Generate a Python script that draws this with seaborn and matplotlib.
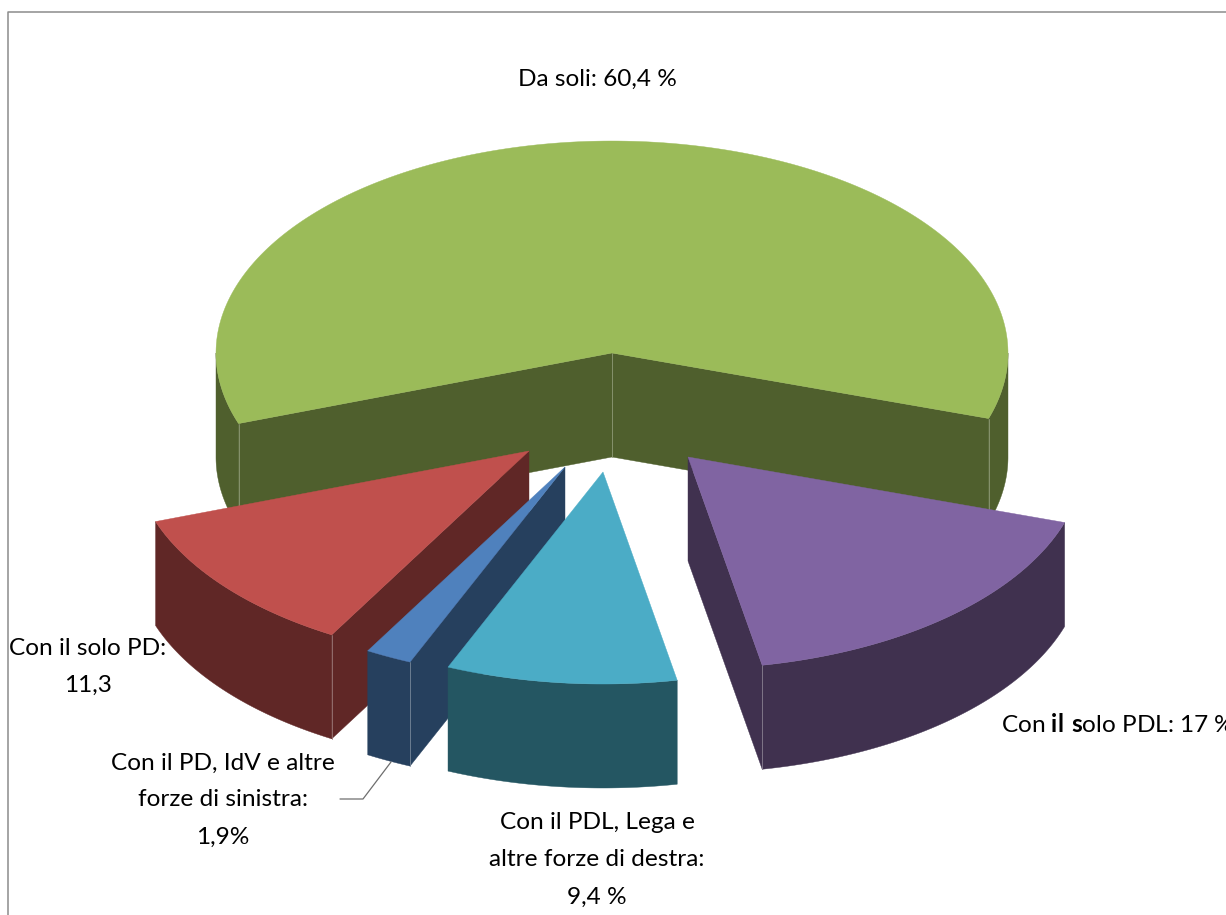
import numpy as np
import seaborn as sns
from matplotlib import pyplot as plt
from matplotlib.patches import Polygon

# shares in %, clockwise starting from the purple slice
slices = ['Con il solo PDL', 'Con il PDL, Lega', 'Con il PD, IdV', 'Con il solo PD', 'Da soli']
shares = [17.0, 9.4, 1.9, 11.3, 60.4]
top_colors = ['#8064A2', '#4BACC6', '#4F81BD', '#C0504D', '#9BBB59']
side_colors = ['#40314F', '#245662', '#26405E', '#602726', '#4F5F2D']

label_pdl = r'Con $\mathbf{il\ s}$olo PDL: 17 %'
label_lega = 'Con il PDL, Lega e\naltre forze di destra:\n9,4 %'
label_idv = 'Con il PD, IdV e altre\nforze di sinistra:\n1,9%'
label_pd = 'Con il solo PD:\n11,3'
label_soli = 'Da soli: 60,4 %'

# geometry of the fake 3d pie, in pixels
CX, CY = 612, 353
RX, RY = 396, 212
DEPTH = 104
START = 18.0
offsets = [(76, 104), (-9, 119), (-47, 114), (-83, 98), (0, 0)]
draw_order = [4, 3, 2, 1, 0]

sns.set_theme(style='white')
plt.rcParams['font.family'] = ['Lato', 'DejaVu Sans']
plt.rcParams['mathtext.fontset'] = 'custom'
plt.rcParams['mathtext.rm'] = 'Lato'
plt.rcParams['mathtext.bf'] = 'Lato:bold'
plt.rcParams['mathtext.default'] = 'regular'


def rim(cx, cy, t):
    t = np.radians(t)
    return np.column_stack([cx + RX * np.cos(t), cy + RY * np.sin(t)])


def add_wall(ax, pts, color):
    # pts is the top edge, the wall hangs DEPTH below it
    low = pts[::-1] + [0, DEPTH]
    ax.add_patch(Polygon(np.vstack([pts, low]), closed=True, fc=color, ec=color, lw=0.3))


def draw_slice(ax, i, t0, t1):
    cx, cy = CX + offsets[i][0], CY + offsets[i][1]
    top, side = top_colors[i], side_colors[i]
    apex = np.array([[cx, cy]])
    a = rim(cx, cy, t0)
    b = rim(cx, cy, t1)
    show_a = np.cos(np.radians(t0)) < 0
    show_b = np.cos(np.radians(t1)) > 0

    # only the cut faces turned to the viewer
    if show_a:
        add_wall(ax, np.vstack([apex, a]), side)
    if show_b:
        add_wall(ax, np.vstack([apex, b]), side)

    # outer wall, front half of the rim only
    for lo, hi in [(0, 180), (360, 540)]:
        s, e = max(t0, lo), min(t1, hi)
        if e > s:
            add_wall(ax, rim(cx, cy, np.linspace(s, e, 80)), side)

    # faint hairlines on the vertical corners, zorder 1 so later slices cover them
    edge = sns.light_palette(side, 6)[-3]
    for t, show in [(t0, show_a), (t1, show_b)]:
        if show:
            p = rim(cx, cy, t)[0]
            ax.plot([p[0], p[0]], [p[1], p[1] + DEPTH], color=edge, lw=0.6, zorder=1)
    if i == 4:
        ax.plot([cx, cx], [cy, cy + DEPTH], color=edge, lw=0.6, zorder=1)

    arc = rim(cx, cy, np.linspace(t0, t1, 200))
    ax.add_patch(Polygon(np.vstack([apex, arc]), closed=True, fc=top, ec=top, lw=0.3))


fig = plt.figure(figsize=(12.26, 9.15), dpi=100)
ax = fig.add_axes([0, 0, 1, 1])
ax.set_xlim(0, 1226)
ax.set_ylim(915, 0)
ax.axis('off')

# chart frame, runs off the picture on the right and at the bottom
ax.plot([8, 8, 1240], [930, 12, 12], color='#8C8C8C', lw=1.1)

angles = START + np.cumsum([0] + [s * 3.6 for s in shares])
for i in draw_order:
    draw_slice(ax, i, angles[i], angles[i + 1])

# leader line of the small slice
ax.plot([340, 363, 391], [799, 799, 762], color='#6E6E6E', lw=0.9)

FS = 17.6
ax.text(597, 79, label_soli, ha='center', va='center', fontsize=FS, color='black')
ax.text(1001, 725, label_pdl, ha='left', va='center', fontsize=FS, color='black')
ax.text(597, 860, label_lega, ha='center', va='center', fontsize=FS, color='black', linespacing=1.95)
ax.text(223, 800, label_idv, ha='center', va='center', fontsize=FS, color='black', linespacing=1.95)
ax.text(88, 667, label_pd, ha='center', va='center', fontsize=FS, color='black', linespacing=1.95)

plt.savefig('out.png', dpi=100)
